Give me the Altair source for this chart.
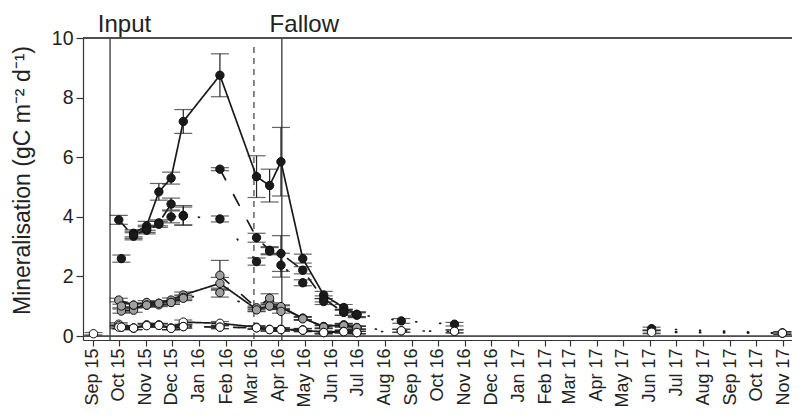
import altair as alt
import pandas as pd

# sampling dates
dates = ["2015-09-02", "2015-10-01", "2015-10-04", "2015-10-18", "2015-11-02",
         "2015-11-16", "2015-11-30", "2015-12-14", "2016-01-25", "2016-03-07",
         "2016-03-22", "2016-04-04", "2016-04-29", "2016-05-23", "2016-06-15",
         "2016-06-30", "2016-08-20", "2016-10-20", "2017-06-03", "2017-10-31"]
N = None
# black treatment
black_solid = [N, N, N, 3.45, 3.7, 4.84, 5.3, 7.2, 8.75, 5.35, 5.05, 5.85, 2.6, 1.38, 0.96, 0.73, N, N, N, N]
black_solid_err = [N, N, N, 0.12, 0.15, 0.28, 0.2, 0.4, 0.72, 0.7, 0.55, 1.15, 0.15, 0.12, 0.1, 0.08, N, N, N, N]
black_dash = [N, 3.9, N, 3.35, 3.6, 3.8, 4.43, 4.05, 5.6, 3.3, 2.88, 2.77, 2.21, 1.25, 0.8, 0.7, N, N, N, N]
black_dash_err = [N, 0.15, N, 0.12, 0.12, 0.1, 0.2, 0.33, 0.05, 0.15, 0.12, 0.6, 0.12, 0.1, 0.1, 0.08, N, N, N, N]
black_dot = [N, N, 2.6, 3.4, 3.55, 3.75, 4.0, 4.03, 3.93, 2.5, 2.85, 2.38, 1.79, 1.16, 0.8, 0.73, 0.51, 0.4, 0.25, 0.1]
black_dot_err = [N, N, 0.12, 0.12, 0.12, 0.1, 0.2, 0.3, 0.1, 0.12, 0.12, 0.4, 0.1, 0.1, 0.1, 0.08, 0.08, 0.06, 0.05, 0.04]
# grey treatment
grey_solid = [N, N, 0.84, 0.87, 1.13, 1.1, 1.21, 1.38, 1.77, 0.9, 1.01, 0.96, 0.6, 0.32, 0.38, 0.29, N, N, N, N]
grey_solid_err = [N, N, 0.07, 0.07, 0.06, 0.06, 0.07, 0.1, 0.2, 0.06, 0.06, 0.06, 0.05, 0.05, 0.05, 0.05, N, N, N, N]
grey_dash = [N, 1.21, N, 1.04, 1.04, 1.05, 1.13, 1.3, 2.04, 0.95, 1.27, 0.99, 0.6, 0.32, 0.36, 0.28, N, N, N, N]
grey_dash_err = [N, 0.06, N, 0.06, 0.06, 0.06, 0.06, 0.08, 0.5, 0.06, 0.15, 0.06, 0.05, 0.05, 0.05, 0.05, N, N, N, N]
grey_dot = [N, N, 1.01, 1.04, 1.04, 1.1, 1.13, 1.27, 1.46, 0.88, 1.01, 0.83, 0.58, 0.3, 0.35, 0.28, 0.18, 0.16, 0.15, 0.11]
grey_dot_err = [N, N, 0.06, 0.06, 0.06, 0.06, 0.06, 0.08, 0.15, 0.06, 0.06, 0.06, 0.05, 0.05, 0.05, 0.05, 0.05, 0.05, 0.05, 0.04]
# white treatment
white_solid = [N, 0.4, 0.3, 0.27, 0.38, 0.38, 0.27, 0.47, 0.43, 0.3, 0.23, 0.23, 0.21, 0.12, 0.16, 0.12, N, N, N, N]
white_solid_err = [N, 0.05, 0.05, 0.05, 0.05, 0.05, 0.05, 0.07, 0.06, 0.05, 0.05, 0.05, 0.05, 0.04, 0.04, 0.04, N, N, N, N]
white_dash = [N, 0.35, 0.3, 0.27, 0.36, 0.36, 0.27, 0.32, 0.3, 0.28, 0.22, 0.22, 0.2, 0.12, 0.15, 0.12, N, N, N, N]
white_dash_err = [N, 0.05, 0.05, 0.05, 0.05, 0.05, 0.05, 0.05, 0.05, 0.05, 0.05, 0.05, 0.05, 0.04, 0.04, 0.04, N, N, N, N]
white_dot = [0.08, 0.3, 0.3, 0.27, 0.35, 0.36, 0.26, 0.32, 0.3, 0.28, 0.22, 0.22, 0.2, 0.12, 0.15, 0.12, 0.18, 0.16, 0.13, 0.1]
white_dot_err = [0.04, 0.05, 0.05, 0.05, 0.05, 0.05, 0.05, 0.05, 0.05, 0.05, 0.05, 0.05, 0.05, 0.04, 0.04, 0.04, 0.05, 0.05, 0.05, 0.04]

# month tick labels
month_ticks = [f"{y}-{m:02d}-01" for y in (2015, 2016, 2017) for m in range(1, 13)
               if "2015-09-01" <= f"{y}-{m:02d}-01" <= "2017-11-01"]

# (colour, line style, values, errors, indices where the line is broken)
series = [
    ("black", "solid", black_solid, black_solid_err, {1, 18}),
    ("black", "dashed", black_dash, black_dash_err, {1, 8, 18}),
    ("black", "dotted", black_dot, black_dot_err, {1, 18}),
    ("grey", "solid", grey_solid, grey_solid_err, {1, 18}),
    ("grey", "dashed", grey_dash, grey_dash_err, {1, 8, 18}),
    ("grey", "dotted", grey_dot, grey_dot_err, {1, 18}),
    ("white", "solid", white_solid, white_solid_err, {1, 18}),
    ("white", "dashed", white_dash, white_dash_err, {1, 18}),
    ("white", "dotted", white_dot, white_dot_err, {1, 18}),
]
order = {"black": 0, "grey": 1, "white": 2}

rows = []
for col, sty, vals, errs, brk in series:
    seg = 0
    for i, (d, v, e) in enumerate(zip(dates, vals, errs)):
        if i in brk:
            seg += 1
        if v is None:
            continue
        rows.append(dict(date=d, value=v, lo=v - e, hi=v + e, col=col, sty=sty,
                         seg=f"{col}-{sty}-{seg}", ord=order[col]))
df = pd.DataFrame(rows)

# event lines
events = pd.DataFrame({
    "date": ["2015-09-21", "2016-04-05"],
    "top": [10, 10], "bottom": [-0.13, -0.13],
})
dashed_event = pd.DataFrame({"date": ["2016-03-04"], "top": [9.7], "bottom": [-0.13]})
labels = pd.DataFrame({"date": ["2015-09-07", "2016-03-22"], "y": [10.2, 10.2],
                       "text": ["Input", "Fallow"]})

W, H = 709, 302


def ms(s):
    return int(pd.Timestamp(s, tz="UTC").timestamp() * 1000)


tick_ms = [ms(s) for s in month_ticks]

xscale = alt.Scale(domain=[ms("2015-08-21"), ms("2017-11-11")])
yscale = alt.Scale(domain=[-0.13, 10], nice=False)

xenc = alt.X("date:T", scale=xscale, title=None,
             axis=alt.Axis(values=tick_ms, tickCount=60, format="%b %y", labelAngle=-90,
                           labelAlign="right", labelBaseline="middle",
                           labelOverlap=False, labelFlush=False, labelBound=False,
                           labelSeparation=0, labelFontSize=18,
                           tickSize=6, labelPadding=2, grid=False))
yenc = alt.Y("value:Q", scale=yscale,
             title="Mineralisation (gC m⁻² d⁻¹)",
             axis=alt.Axis(values=[0, 2, 4, 6, 8, 10], tickSize=7, labelPadding=3,
                           grid=False, titleX=-61, titleY=142, titleAngle=-90,
                           titleAlign="center", titleBaseline="middle"))

base = alt.Chart(df)

lines = base.mark_line(color="#1a1a1a", strokeCap="round").encode(
    x=xenc, y=yenc, detail="seg:N",
    strokeDash=alt.StrokeDash("sty:N", scale=alt.Scale(domain=["solid", "dashed", "dotted"],
                                                      range=[[1, 0], [12, 17], [1, 23]]), legend=None),
    strokeWidth=alt.StrokeWidth("sty:N", scale=alt.Scale(domain=["solid", "dashed", "dotted"],
                                                        range=[1.7, 1.7, 2.8]), legend=None),
)
ebars = base.mark_rule(color="#222", strokeWidth=1.2).encode(
    x="date:T", y="lo:Q", y2="hi:Q")
cap_lo = base.mark_tick(orient="horizontal", size=18, thickness=1.2, color="#222").encode(
    x="date:T", y="lo:Q")
cap_hi = base.mark_tick(orient="horizontal", size=18, thickness=1.2, color="#222").encode(
    x="date:T", y="hi:Q")
points = base.mark_circle(size=70, stroke="#111", strokeWidth=1, opacity=1).encode(
    x="date:T", y="value:Q",
    fill=alt.Fill("col:N", scale=alt.Scale(domain=["black", "grey", "white"],
                                           range=["#1a1a1a", "#a0a0a0", "#ffffff"]), legend=None),
    order="ord:Q",
)

ev = alt.Chart(events).mark_rule(color="#444", strokeWidth=1.4).encode(
    x="date:T", y="top:Q", y2="bottom:Q")
evd = alt.Chart(dashed_event).mark_rule(color="#555", strokeWidth=1.4, strokeDash=[6, 5]).encode(
    x="date:T", y="top:Q", y2="bottom:Q")
top_line = alt.Chart(events).mark_rule(color="#444", strokeWidth=1.4).encode(
    y=alt.datum(10), x=alt.value(0), x2=alt.value(W))
zero_line = alt.Chart(events).mark_rule(color="#444", strokeWidth=1.2).encode(
    y=alt.datum(0), x=alt.value(0), x2=alt.value(W))
txt = alt.Chart(labels).mark_text(align="left", baseline="alphabetic", fontSize=24,
                                  font="Liberation Sans", color="#222").encode(
    x="date:T", y="y:Q", text="text:N")

chart = alt.layer(ev, evd, top_line, zero_line, lines, ebars, cap_lo, cap_hi, points, txt).properties(
    width=W, height=H,
    autosize=alt.AutoSizeParams(type="none"),
    padding={"left": 75, "top": 30, "right": 0, "bottom": 68},
).configure_view(stroke=None).configure_axis(
    labelFont="Liberation Sans", titleFont="Liberation Sans",
    labelFontSize=19.5, titleFontSize=23, labelColor="#222", titleColor="#222",
    titleFontWeight="normal", domainColor="#333", tickColor="#333",
    domainWidth=1.2, tickWidth=1.2,
)

chart.save("out.html", embed_options={"renderer": "svg", "actions": False})
